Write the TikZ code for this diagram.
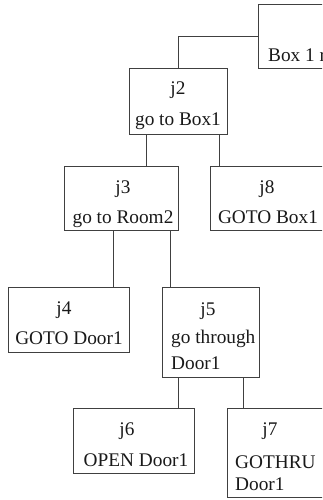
\documentclass[tikz,border=0pt]{standalone}
\usepackage{fontspec}
\setmainfont{Liberation Serif}
\tikzset{
  box/.style={draw=black!75, line width=0.9pt, rectangle, inner sep=0pt, anchor=north west},
  conn/.style={draw=black!75, line width=0.9pt},
  lbl/.style={inner sep=0pt, font=\fontsize{19.3}{23}\selectfont, text=black!90},
}
\begin{document}
\begin{tikzpicture}[x=1pt,y=-1pt]
\useasboundingbox (0,0) rectangle (322,500);
\clip (0,0) rectangle (322,500);
% boxes
\node[box, minimum width=82pt, minimum height=64pt] (top) at (258,4) {};
\node[box, minimum width=98pt, minimum height=66pt] (j2) at (129,68) {};
\node[box, minimum width=114pt, minimum height=64pt] (j3) at (64,166) {};
\node[box, minimum width=116pt, minimum height=64pt] (j8) at (210,166) {};
\node[box, minimum width=121pt, minimum height=65pt] (j4) at (8,287) {};
\node[box, minimum width=97pt, minimum height=90pt] (j5) at (162,287) {};
\node[box, minimum width=121pt, minimum height=65pt] (j6) at (73,408) {};
\node[box, minimum width=103pt, minimum height=89pt] (j7) at (227,408) {};
% connector x positions
\coordinate (x23) at (146,0);
\coordinate (x28) at (219,0);
\coordinate (x34) at (113,0);
\coordinate (x35) at (170,0);
\coordinate (x56) at (178,0);
\coordinate (x57) at (243,0);
% connectors
\draw[conn] (top.west) -| (j2.north);
\draw[conn] (j2.south -| x23) -- (j3.north -| x23);
\draw[conn] (j2.south -| x28) -- (j8.north -| x28);
\draw[conn] (j3.south -| x34) -- (j4.north -| x34);
\draw[conn] (j3.south -| x35) -- (j5.north -| x35);
\draw[conn] (j5.south -| x56) -- (j6.north -| x56);
\draw[conn] (j5.south -| x57) -- (j7.north -| x57);
% texts
\node[lbl, anchor=base west] (ttop) at (268,62) {Box 1 r};
\node[lbl, anchor=base] (tj2) at (178,95) {j2};
\node[lbl, anchor=base] (tj2b) at (178,125) {go to Box1};
\node[lbl, anchor=base] (tj3) at (123,193) {j3};
\node[lbl, anchor=base] (tj3b) at (123,223) {go to Room2};
\node[lbl, anchor=base] (tj8) at (267,193) {j8};
\node[lbl, anchor=base] (tj8b) at (268,223) {GOTO Box1};
\node[lbl, anchor=base] (tj4) at (64,314) {j4};
\node[lbl, anchor=base] (tj4b) at (69,344) {GOTO Door1};
\node[lbl, anchor=base] (tj5) at (208,315) {j5};
\node[lbl, anchor=base west] (tj5b) at (171,343) {go through};
\node[lbl, anchor=base west] (tj5c) at (171,369) {Door1};
\node[lbl, anchor=base] (tj6) at (127,435) {j6};
\node[lbl, anchor=base] (tj6b) at (136,466) {OPEN Door1};
\node[lbl, anchor=base] (tj7) at (270,435) {j7};
\node[lbl, anchor=base west] (tj7b) at (235,468) {GOTHRU};
\node[lbl, anchor=base west] (tj7c) at (235,490) {Door1};
\end{tikzpicture}
\end{document}
